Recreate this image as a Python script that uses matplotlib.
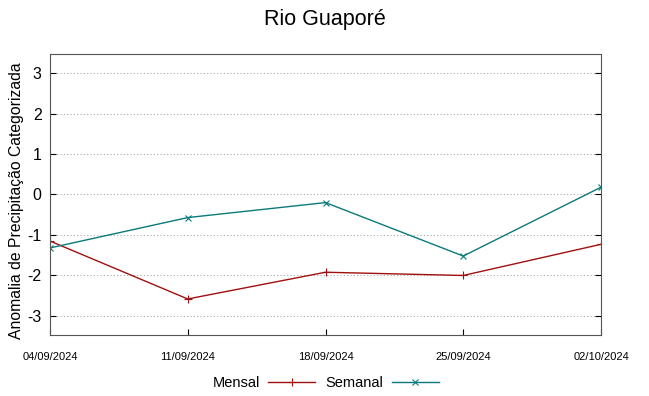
import matplotlib
matplotlib.use("Agg")
import matplotlib.pyplot as plt
from matplotlib import font_manager

names = {f.name for f in font_manager.fontManager.ttflist}
narrow = "Liberation Sans Narrow" if "Liberation Sans Narrow" in names else "Liberation Sans"
plt.rcParams['font.family'] = ['Liberation Sans', 'DejaVu Sans']

dates = ["04/09/2024", "11/09/2024", "18/09/2024", "25/09/2024", "02/10/2024"]
mensal = [-1.15, -2.58, -1.92, -2.0, -1.23]
semanal = [-1.32, -0.57, -0.2, -1.52, 0.18]
yticks = [-3, -2, -1, 0, 1, 2, 3]

fig = plt.figure(figsize=(6.49, 3.96), dpi=100)
ax = fig.add_axes([50/649, 1-335/396, 551/649, 281/396])
x = list(range(len(dates)))
ax.plot(x, mensal, color='#a01010', lw=1, marker='+', ms=6, mew=0.8, label='Mensal')
ax.plot(x, semanal, color='#0a7a7a', lw=1, marker='x', ms=5, mew=0.8, label='Semanal')
ax.set_xlim(0, len(dates)-1)
ax.set_ylim(-3.47, 3.47)
ax.set_yticks(yticks)
ax.set_yticklabels([str(v) for v in yticks], fontsize=11.5)
ax.set_xticks(x)
ax.set_xticklabels(dates, fontsize=8, family=[narrow, 'DejaVu Sans'])
ax.tick_params(axis='both', direction='in', top=False, right=True, length=4, color='black')
ax.tick_params(axis='x', pad=12)
ax.tick_params(axis='y', pad=6)
ax.grid(axis='y', color='#aaaaaa', linestyle=(0, (1, 2)), lw=0.8)
for s in ax.spines.values():
    s.set_color('#555555')
ax.set_ylabel('Anomalia de Precipitação Categorizada', fontsize=11.3)
ax.yaxis.set_label_coords(-0.047, 0.477)
fig.text(0.5, 1-20/396, 'Rio Guaporé', fontsize=15.5, ha='center', va='center')
leg = ax.legend(loc='center', bbox_to_anchor=(0.5, -(383-335)/281), ncol=2, frameon=False,
                markerfirst=False, handlelength=3.2, columnspacing=0.7, handletextpad=0.6,
                prop={'family': [narrow, 'DejaVu Sans'], 'size': 10.5})
fig.savefig('out.png', dpi=100)
